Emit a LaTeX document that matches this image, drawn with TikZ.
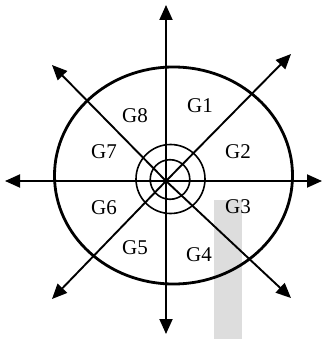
\documentclass[tikz,border=0pt]{standalone}
\usepackage{fontspec}
\setmainfont{Liberation Serif}
\usetikzlibrary{arrows.meta}
\definecolor{panelgray}{RGB}{221,221,221}
\tikzset{
  axis/.style={line width=1.9pt,-{Triangle[length=15pt,width=13pt]}},
  ring/.style={line width=1.6pt},
  glabel/.style={font=\fontsize{21}{24}\selectfont,inner sep=0pt}
}
\begin{document}
\begin{tikzpicture}[x=1pt,y=-1pt]
\useasboundingbox (0,0) rectangle (323,339);
\fill[panelgray] (214,200) rectangle (242,339);

\coordinate (o) at (166,181);
\coordinate (n) at (166,5);
\coordinate (s) at (166,334);
\coordinate (w) at (5,181);
\coordinate (e) at (322,181);
\coordinate (ne) at (291,54);
\coordinate (nw) at (52,65);
\coordinate (se) at (291,298);
\coordinate (sw) at (52,299);

\draw[line width=2.8pt] (173.5,175.5) ellipse (119pt and 108.5pt);
\draw[ring] (170.5,179) circle (34.5pt);
\draw[ring] (170,179.5) circle (19.8pt);

\foreach \t in {n,s,w,e,ne,nw,se,sw}
  \draw[axis] (o) -- (\t);

\node[glabel] (g1) at (200,106) {G1};
\node[glabel] (g2) at (238,152) {G2};
\node[glabel] (g3) at (238,207) {G3};
\node[glabel] (g4) at (199,255) {G4};
\node[glabel] (g5) at (135,248) {G5};
\node[glabel] (g6) at (104,208) {G6};
\node[glabel] (g7) at (104,152) {G7};
\node[glabel] (g8) at (135,116) {G8};
\end{tikzpicture}
\end{document}
